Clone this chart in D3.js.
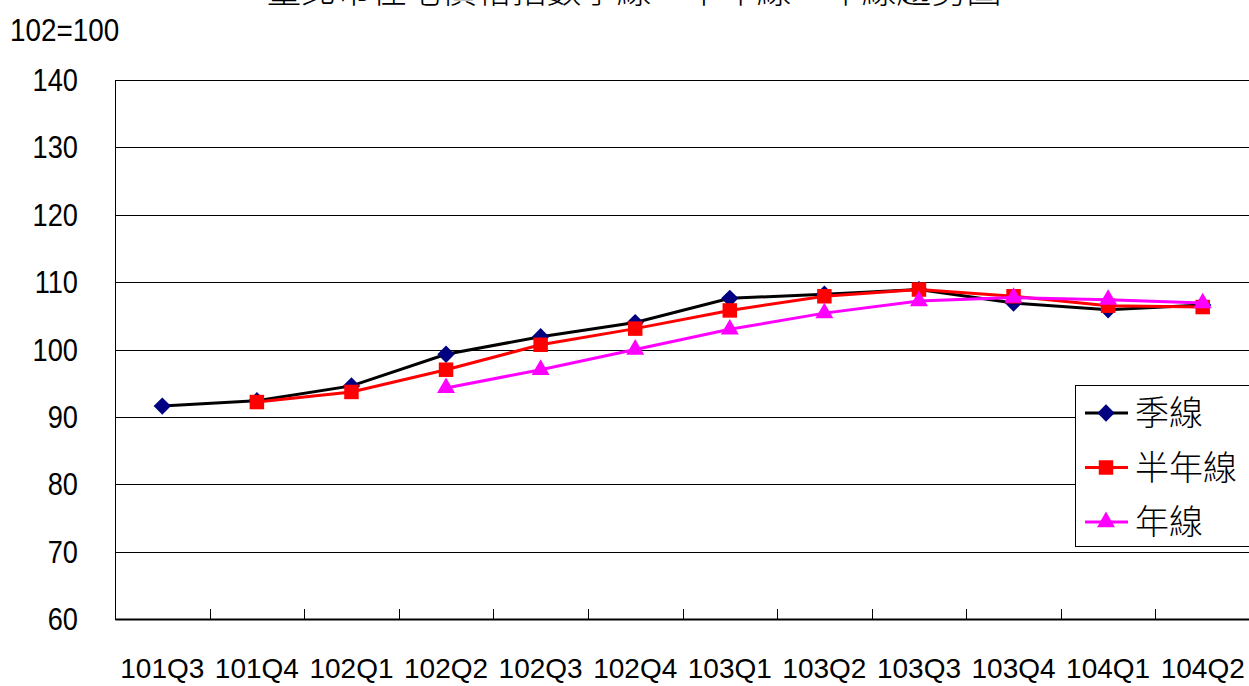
<!DOCTYPE html>
<html>
<head>
<meta charset="utf-8">
<script src="https://cdn.jsdelivr.net/npm/d3@7"></script>
<style>
  body { margin: 0; background: #fff; overflow: hidden; }
  svg { display: block; }
</style>
</head>
<body>
<script>
// quarters on the x axis
let quarters = ["101Q3", "101Q4", "102Q1", "102Q2", "102Q3", "102Q4",
  "103Q1", "103Q2", "103Q3", "103Q4", "104Q1", "104Q2"];
// index values (102=100)
let quarterLine = [91.6, 92.4, 94.6, 99.3, 101.9, 104.0, 107.6, 108.2, 108.9, 106.9, 105.9, 106.6];
let halfYearLine = [null, 92.2, 93.7, 97.0, 100.7, 103.1, 105.8, 107.9, 108.9, 107.9, 106.5, 106.3];
let yearLine = [null, null, null, 94.3, 97.0, 100.0, 103.0, 105.4, 107.2, 107.7, 107.4, 106.9];
let seriesNames = ["季線", "半年線", "年線"];
let yTicks = [60, 70, 80, 90, 100, 110, 120, 130, 140];

let width = 1249, height = 686;
let plotLeft = 115, plotRight = 1250, plotTop = 80, plotBottom = 619;

let svg = d3.select("body").append("svg")
  .attr("width", width)
  .attr("height", height);

let x = d3.scaleBand().domain(quarters).range([plotLeft, plotRight]);
let y = d3.scaleLinear().domain([60, 140]).range([plotBottom, plotTop]);

//title (cut off at top in the original)
svg.append("text")
  .attr("x", 634)
  .attr("y", 3)
  .attr("text-anchor", "middle")
  .style("font-family", "'Noto Sans CJK TC'")
  .style("font-size", "35px")
  .style("font-weight", 300)
  .text("臺北市住宅價格指數季線、半年線、年線趨勢圖");

svg.append("text")
  .attr("transform", "translate(10,41) scale(0.87,1)")
  .style("font-family", "'Liberation Sans', Arial")
  .style("font-size", "32px")
  .text("102=100");

//gridlines
svg.append("g")
  .selectAll("line")
  .data(yTicks)
  .enter()
  .append("line")
  .attr("x1", plotLeft)
  .attr("x2", plotRight)
  .attr("y1", d => Math.round(y(d)) + 0.5)
  .attr("y2", d => Math.round(y(d)) + 0.5)
  .attr("stroke", "#000")
  .attr("stroke-width", 1);

//yaxis labels
svg.append("g")
  .selectAll("text")
  .data(yTicks)
  .enter()
  .append("text")
  .attr("transform", d => "translate(78," + (y(d) + 11) + ") scale(0.85,1)")
  .attr("text-anchor", "end")
  .style("font-family", "'Liberation Sans', Arial")
  .style("font-size", "32px")
  .text(d => d);

// left border
svg.append("line")
  .attr("x1", plotLeft + 0.5).attr("x2", plotLeft + 0.5)
  .attr("y1", plotTop).attr("y2", plotBottom)
  .attr("stroke", "#000");

//xaxis: ticks pointing up, labels below
let xAxis = d3.axisBottom(x).tickSize(0).tickPadding(39);
let gx = svg.append("g")
  .attr("transform", "translate(0," + plotBottom + ")")
  .call(xAxis);
gx.select(".domain").attr("stroke", "#000").attr("stroke-width", 2);
gx.selectAll("text")
  .style("font-family", "'Liberation Sans', Arial")
  .style("font-size", "28px")
  .attr("fill", "#000");

svg.append("g")
  .selectAll("line")
  .data(quarters.slice(1))
  .enter()
  .append("line")
  .attr("x1", d => Math.round(x(d)) + 0.5)
  .attr("x2", d => Math.round(x(d)) + 0.5)
  .attr("y1", plotBottom)
  .attr("y2", plotBottom - 10)
  .attr("stroke", "#000");

//series
let series = [
  { name: seriesNames[0], values: quarterLine, line: "#000000", marker: "#000080", shape: d3.symbolSquare, size: 150, rot: 45 },
  { name: seriesNames[1], values: halfYearLine, line: "#ff0000", marker: "#ff0000", shape: d3.symbolSquare, size: 210, rot: 0 },
  { name: seriesNames[2], values: yearLine, line: "#ff00ff", marker: "#ff00ff", shape: d3.symbolTriangle, size: 140, rot: 0 }
];

let line = d3.line()
  .defined(d => d.v != null)
  .x(d => x(d.q) + x.bandwidth() / 2)
  .y(d => y(d.v));

series.forEach(s => {
  let pts = quarters.map((q, i) => ({ q: q, v: s.values[i] }));
  svg.append("path")
    .datum(pts)
    .attr("d", line)
    .attr("fill", "none")
    .attr("stroke", s.line)
    .attr("stroke-width", 3);
  svg.append("g")
    .selectAll("path")
    .data(pts.filter(d => d.v != null))
    .enter()
    .append("path")
    .attr("d", d3.symbol().type(s.shape).size(s.size))
    .attr("transform", d => "translate(" + (x(d.q) + x.bandwidth() / 2) + "," + y(d.v) + ") rotate(" + s.rot + ")")
    .attr("fill", s.marker);
});

//legend
let legend = svg.append("g");
legend.append("rect")
  .attr("x", 1075.5)
  .attr("y", 385.5)
  .attr("width", 180)
  .attr("height", 161)
  .attr("fill", "#fff")
  .attr("stroke", "#000");

series.forEach((s, i) => {
  let ly = 413 + i * 54.5;
  legend.append("line")
    .attr("x1", 1085).attr("x2", 1128)
    .attr("y1", ly).attr("y2", ly)
    .attr("stroke", s.line)
    .attr("stroke-width", 3);
  legend.append("path")
    .attr("d", d3.symbol().type(s.shape).size(s.size))
    .attr("transform", "translate(1106," + ly + ") rotate(" + s.rot + ")")
    .attr("fill", s.marker);
  legend.append("text")
    .attr("x", 1135)
    .attr("y", ly + 12)
    .style("font-family", "'Noto Sans CJK TC'")
    .style("font-size", "34px")
    .style("font-weight", 300)
    .text(s.name);
});
</script>
</body>
</html>
